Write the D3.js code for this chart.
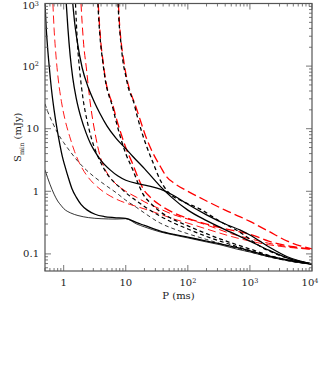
<!DOCTYPE html>
<html><head><meta charset="utf-8">
<script src="https://cdn.jsdelivr.net/npm/d3@7"></script>
<style>body{margin:0;background:#fff}</style>
</head><body>
<svg id="c" width="320" height="385"></svg>
<script>
// ---- data ----
const xTickValues=[1,10,100,1000,10000];
const xTickLabels=[["1",""],["10",""],["10","2"],["10","3"],["10","4"]];
const yTickValues=[0.1,1,10,100,1000];
const yTickLabels=[["0.1",""],["1",""],["10",""],["10","2"],["10","3"]];
// black solid curves  [P (ms), Smin (mJy)]
const blackSolidThin=[[0.5,2.2],[0.55,1.65],[0.6,1.3],[0.7,0.9],[0.8,0.7],[0.9,0.6],[1,0.53],[1.3,0.45],[1.7,0.41],[2.5,0.38],[4,0.365],[7,0.36],[10,0.365],[15,0.3],[20,0.27],[36,0.224],[60,0.2],[100,0.18],[200,0.155],[330,0.14],[600,0.12],[1000,0.107],[2000,0.09],[5000,0.075],[10000,0.068]];
const blackSolid2=[[0.5,1000],[0.52,450],[0.55,200],[0.59,90],[0.64,40],[0.7,20],[0.78,10],[0.87,5.5],[0.95,3.6],[1.05,2.5],[1.2,1.6],[1.36,1.1],[1.6,0.8],[1.9,0.62],[2.4,0.5],[3.2,0.43],[4.5,0.395],[6.5,0.38],[10,0.37],[15,0.315],[20,0.285],[36,0.232],[60,0.205],[100,0.185],[200,0.16],[330,0.145],[600,0.127],[1000,0.112],[2000,0.093],[5000,0.077],[10000,0.069]];
const blackSolid3=[[1.1,1000],[1.17,400],[1.27,150],[1.4,65],[1.6,30],[1.9,15],[2.3,8.5],[2.7,5.8],[3.1,4.5],[4,3.1],[5.6,2.2],[7.5,1.75],[10,1.5],[17,1.3],[25,1.2],[36,1.08],[60,0.85],[100,0.62],[200,0.42],[400,0.3],[700,0.24],[1000,0.2],[2000,0.13],[4000,0.09],[10000,0.069]];
const blackSolid4=[[1.4,1000],[1.5,500],[1.65,250],[1.98,95],[2.5,45],[3.1,27],[3.84,17.5],[5,11],[7,7],[10,4.8],[13,3.6],[20,2.3],[36,1.2],[55,0.8],[100,0.5],[200,0.34],[500,0.22],[1000,0.16],[2000,0.115],[5000,0.08],[10000,0.069]];
// black dashed curves
const blackDashThin=[[0.5,25],[0.55,19],[0.65,13],[0.8,8.5],[1,6],[1.3,4.2],[1.7,3],[2.3,2.2],[3,1.75],[3.84,1.45],[5,1.2],[7,0.95],[10,0.72],[15,0.55],[20,0.45],[36,0.31],[60,0.25],[100,0.21],[200,0.17],[500,0.13],[1000,0.108],[2000,0.09],[5000,0.075],[10000,0.069]];
const blackDash2=[[1.55,1000],[1.6,500],[1.68,200],[1.8,90],[2.05,30],[2.4,13],[2.8,7],[3.3,4.3],[4,2.8],[5,1.9],[6.5,1.4],[8.5,1.1],[10,0.95],[15,0.7],[20,0.57],[36,0.4],[60,0.31],[100,0.25],[200,0.19],[500,0.14],[1000,0.113],[2000,0.092],[5000,0.076],[10000,0.069]];
const blackDash3=[[3.55,1000],[3.7,500],[3.9,250],[4.25,120],[4.75,55],[5.4,33],[5.93,25],[7,13],[8.5,6.5],[10,4],[13,2.2],[16,1.3],[19,0.9],[25,0.65],[36,0.47],[60,0.35],[100,0.28],[200,0.21],[500,0.15],[1000,0.12],[2000,0.095],[5000,0.076],[10000,0.069]];
const blackDash4=[[7.5,1000],[7.8,500],[8.3,250],[9,120],[10,70],[11,45],[12.5,32],[13.2,28],[15,17],[18,9],[22,5],[27,3],[36,1.5],[52,0.9],[80,0.7],[158,0.52],[300,0.35],[700,0.22],[1500,0.13],[3000,0.095],[10000,0.069]];
// red dashed curves
const redDash1=[[0.67,1000],[0.7,400],[0.75,150],[0.82,60],[0.92,27],[1.05,14],[1.25,7.5],[1.5,4.3],[1.8,2.8],[2.3,1.85],[3,1.35],[4,1.05],[5,0.9],[7,0.75],[10,0.65],[17,0.55],[36,0.43],[60,0.36],[100,0.31],[200,0.25],[500,0.19],[1000,0.16],[2000,0.14],[5000,0.125],[10000,0.118]];
const redDash2=[[1.9,1000],[1.98,500],[2.1,220],[2.3,100],[2.65,28],[3.2,8.5],[3.84,3.7],[4.5,2.4],[5.5,1.7],[7,1.3],[10,1.0],[15,0.8],[20,0.68],[36,0.52],[60,0.42],[100,0.36],[200,0.29],[500,0.21],[1000,0.175],[2000,0.148],[5000,0.127],[10000,0.12]];
const redDash3=[[3.6,1000],[3.75,500],[3.95,250],[4.3,120],[4.8,55],[5.5,33],[6.1,25],[7,15],[8.5,8],[10,5],[13,2.7],[16,1.6],[19,1.1],[25,0.8],[36,0.6],[60,0.45],[100,0.37],[200,0.3],[500,0.24],[1100,0.2],[2000,0.16],[5000,0.13],[10000,0.12]];
const redDash4=[[7.6,1000],[7.9,500],[8.4,250],[9.3,120],[10.5,60],[12.3,35],[14,25],[17,14],[21,7.5],[27,4.2],[36,2.5],[45.6,1.7],[60,1.35],[100,1.0],[200,0.7],[400,0.5],[700,0.39],[1000,0.33],[2000,0.23],[4000,0.16],[10000,0.12]];

// ---- layout ----
const L=45,R=312,T=3.5,B=271;
const svg=d3.select("#c");
const x=d3.scaleLog().domain([0.5,10000]).range([L,R]);
const y=d3.scaleLog().domain([0.0533,1000]).range([B,T]);
const font="'DejaVu Serif', 'Liberation Serif', serif";

svg.append("defs").append("clipPath").attr("id","clip").append("rect")
  .attr("x",L).attr("y",T).attr("width",R-L).attr("height",B-T);

const line=d3.line().x(d=>x(d[0])).y(d=>y(d[1])).curve(d3.curveMonotoneX);
const g=svg.append("g").attr("clip-path","url(#clip)");
function draw(data,color,width,dash){
  g.append("path").datum(data).attr("d",line).attr("fill","none")
   .attr("stroke",color).attr("stroke-width",width)
   .attr("stroke-dasharray",dash||null);
}
draw(redDash1,"#f00",0.9,"8,4");
draw(redDash2,"#f00",1.0,"8,4");
draw(redDash3,"#f00",1.3,"9,4");
draw(redDash4,"#f00",1.3,"9,4");
draw(blackSolidThin,"#000",0.8);
draw(blackSolid2,"#000",1.3);
draw(blackSolid3,"#000",1.3);
draw(blackSolid4,"#000",1.3);
draw(blackDashThin,"#000",0.8,"4,3");
draw(blackDash2,"#000",1.2,"4,3");
draw(blackDash3,"#000",1.3,"4,3");
draw(blackDash4,"#000",1.3,"4,3");

// ---- axes ----
const axC="#555";
function minors(lo,hi){const a=[];for(let e=-2;e<=4;e++)for(let m=1;m<=9;m++){const v=m*Math.pow(10,e);if(v>=lo&&v<=hi*1.0001)a.push(v);}return a;}
const ax=svg.append("g");
const isMajor=v=>Math.abs(Math.log10(v)-Math.round(Math.log10(v)))<1e-9;
minors(0.5,10000).forEach(v=>{const len=isMajor(v)?6:3;const px=x(v);
  ax.append("line").attr("x1",px).attr("x2",px).attr("y1",B).attr("y2",B-len).attr("stroke",axC).attr("stroke-width",0.8);
  ax.append("line").attr("x1",px).attr("x2",px).attr("y1",T).attr("y2",T+len).attr("stroke",axC).attr("stroke-width",0.8);});
minors(0.0533,1000).forEach(v=>{const len=isMajor(v)?6:3;const py=y(v);
  ax.append("line").attr("y1",py).attr("y2",py).attr("x1",L).attr("x2",L+len).attr("stroke",axC).attr("stroke-width",0.8);
  ax.append("line").attr("y1",py).attr("y2",py).attr("x1",R).attr("x2",R-len).attr("stroke",axC).attr("stroke-width",0.8);});
ax.append("rect").attr("x",L).attr("y",T).attr("width",R-L).attr("height",B-T).attr("fill","none").attr("stroke",axC).attr("stroke-width",1.2);

xTickValues.forEach((v,i)=>{const px=Math.min(x(v),310);
  const t=svg.append("text").attr("x",px).attr("y",B+15).attr("text-anchor","middle")
  .attr("font-family",font).attr("font-size",10).attr("fill","#222");
  t.append("tspan").text(xTickLabels[i][0]);
  if(xTickLabels[i][1]) t.append("tspan").attr("dy",-3.5).attr("font-size",6.5).text(xTickLabels[i][1]);});
yTickValues.forEach((v,i)=>{const py=Math.max(y(v)+3.5,9);
  const t=svg.append("text").attr("x",L-6).attr("y",py).attr("text-anchor","end")
  .attr("font-family",font).attr("font-size",10).attr("fill","#222");
  t.append("tspan").text(yTickLabels[i][0]);
  if(yTickLabels[i][1]) t.append("tspan").attr("dy",-3.5).attr("font-size",6.5).text(yTickLabels[i][1]);});
svg.append("text").attr("x",(L+R)/2).attr("y",B+28).attr("text-anchor","middle")
  .attr("font-family",font).attr("font-size",10).attr("fill","#222").text("P (ms)");
const yl=svg.append("text").attr("transform",`translate(21,${(T+B)/2}) rotate(-90)`).attr("text-anchor","middle")
  .attr("font-family",font).attr("font-size",10).attr("fill","#222");
yl.append("tspan").text("S");
yl.append("tspan").attr("dy",2.5).attr("font-size",6.5).text("min");
yl.append("tspan").attr("dy",-2.5).text(" (mJy)");
</script>
</body></html>
